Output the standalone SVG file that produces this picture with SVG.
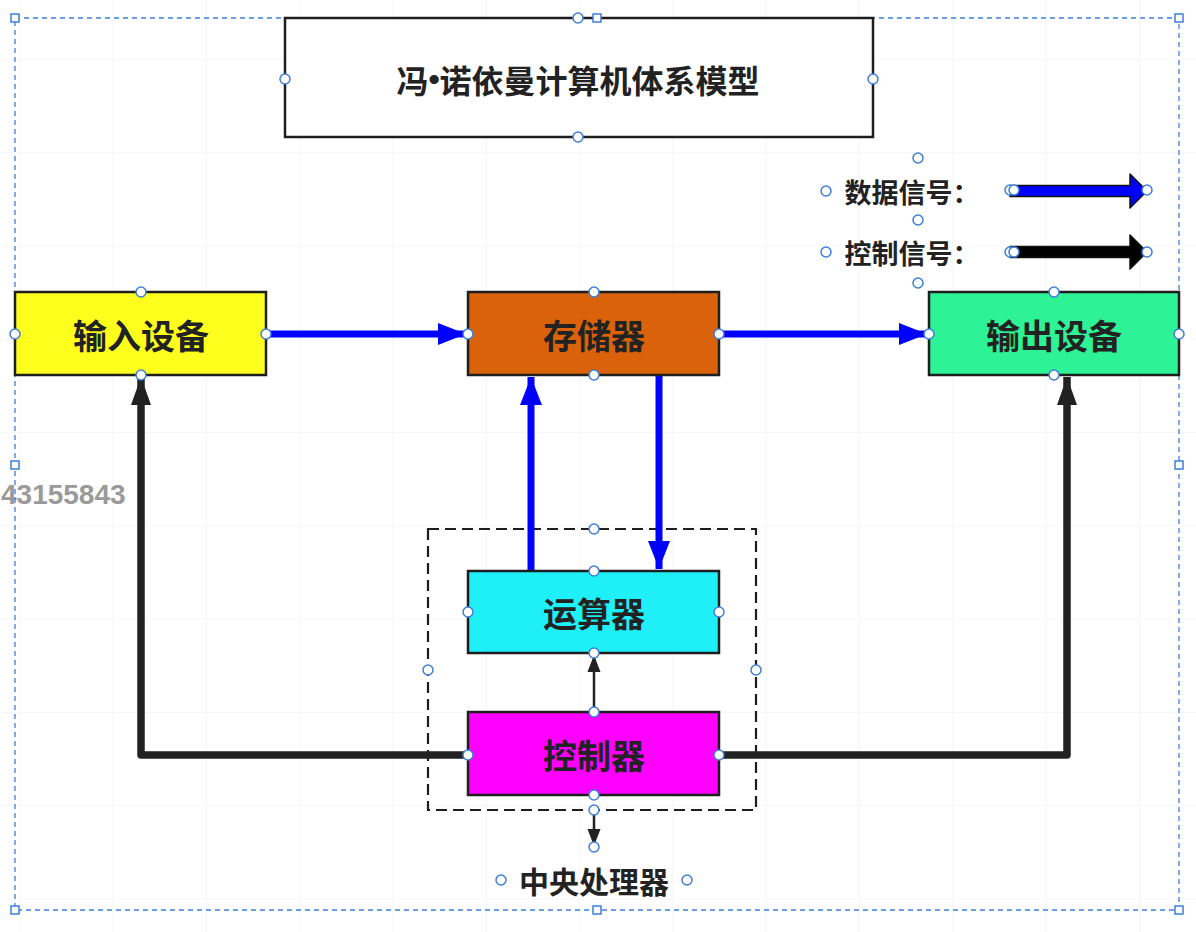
<svg xmlns="http://www.w3.org/2000/svg" width="1196" height="932" viewBox="0 0 1196 932">
<style>
.box{stroke:#1e1e1e;stroke-width:2.5}
.lbl{font-family:"Noto Sans CJK SC","Noto Sans",sans-serif;font-weight:700;fill:#222;text-anchor:middle;dominant-baseline:central}
.blue{stroke:#0000ff;stroke-width:7;fill:none}
.blk{stroke:#222;stroke-width:7.5;fill:none}
.thin{stroke:#222;stroke-width:2.5;fill:none}
.h{fill:#fff;stroke:#3d7fd9;stroke-width:1.5}
.sq{fill:#fff;stroke:#3d7fd9;stroke-width:1.5}
</style>
<defs>
<pattern id="grid" x="19.4" y="58.8" width="93.3" height="93.3" patternUnits="userSpaceOnUse">
<path d="M0 0H93.3M0 0V93.3" stroke="#eceef1" stroke-width="1.2" fill="none"/>
</pattern>
<marker id="ab" markerUnits="userSpaceOnUse" markerWidth="30" markerHeight="24" refX="28" refY="12" orient="auto">
<path d="M0 1L28 12L0 23Z" fill="#0000ff"/>
</marker>
<marker id="ak" markerUnits="userSpaceOnUse" markerWidth="30" markerHeight="24" refX="28" refY="12" orient="auto">
<path d="M0 2L28 12L0 22Z" fill="#222"/>
</marker>
<marker id="at" markerUnits="userSpaceOnUse" markerWidth="18" markerHeight="14" refX="17" refY="7" orient="auto">
<path d="M0 0.5L17 7L0 13.5Z" fill="#222"/>
</marker>
</defs>
<rect width="1196" height="932" fill="#fff"/>
<rect width="1196" height="932" fill="url(#grid)"/>

<text x="1" y="494" font-family="Liberation Sans,Arial,sans-serif" font-weight="700" font-size="28" fill="#9a9a9a" dominant-baseline="central">43155843</text>

<g id="selection">
<rect x="15" y="18" width="1164" height="892" fill="none" stroke="#3d7fd9" stroke-width="1.3" stroke-dasharray="5 4"/>
</g>

<g id="cpu-frame">
<rect x="428" y="529" width="328" height="281" fill="none" stroke="#1e1e1e" stroke-width="2.2" stroke-dasharray="11 6"/>
</g>

<g id="connectors">
<path class="blue" d="M266 334H466" marker-end="url(#ab)"/>
<path class="blue" d="M719 334H927" marker-end="url(#ab)"/>
<path class="blue" d="M531 571V377" marker-end="url(#ab)"/>
<path class="blue" d="M659 375V569" marker-end="url(#ab)"/>
<path class="blk" d="M468 755H141V377" marker-end="url(#ak)" stroke-linejoin="round"/>
<path class="blk" d="M719 755H1067V377" marker-end="url(#ak)" stroke-linejoin="round"/>
<path class="thin" d="M594 712V655" marker-end="url(#at)"/>
<path class="thin" d="M594 805V846" marker-end="url(#at)"/>
</g>

<g id="title">
<rect x="285" y="18" width="588" height="119" fill="#fff" class="box"/>
<text class="lbl" x="578" y="79" font-size="32">冯<tspan font-family="Liberation Sans,Arial,sans-serif">•</tspan>诺依曼计算机体系模型</text>
</g>

<g id="legend-data">
<text class="lbl" x="912" y="191" font-size="27">数据信号：</text>
<path d="M1010 185.5H1130V174L1147 191L1130 208V196.5H1010Z" fill="#0000ff" stroke="#111" stroke-width="1.5" stroke-linejoin="round"/>
</g>
<g id="legend-control">
<text class="lbl" x="912" y="252" font-size="27">控制信号：</text>
<path d="M1010 246.5H1130V235L1147 252L1130 269V257.5H1010Z" fill="#000" stroke="#111" stroke-width="1.5" stroke-linejoin="round"/>
</g>

<g id="input">
<rect x="15" y="292" width="251" height="83" fill="#ffff1e" class="box"/>
<text class="lbl" x="141" y="334" font-size="34">输入设备</text>
</g>
<g id="memory">
<rect x="468" y="292" width="251" height="83" fill="#d9620a" class="box"/>
<text class="lbl" x="594" y="334" font-size="34">存储器</text>
</g>
<g id="output">
<rect x="929" y="292" width="250" height="83" fill="#2ef296" class="box"/>
<text class="lbl" x="1054" y="334" font-size="34">输出设备</text>
</g>
<g id="alu">
<rect x="468" y="571" width="251" height="82" fill="#1ff0f8" class="box"/>
<text class="lbl" x="594" y="612" font-size="34">运算器</text>
</g>
<g id="controller">
<rect x="468" y="712" width="251" height="83" fill="#ff00ff" class="box"/>
<text class="lbl" x="594" y="754" font-size="34">控制器</text>
</g>
<g id="cpu-label">
<text class="lbl" x="594" y="880" font-size="30">中央处理器</text>
</g>

<g id="handles">
<rect class="sq" x="11" y="14" width="8" height="8"/>
<rect class="sq" x="593" y="14" width="8" height="8"/>
<rect class="sq" x="1175" y="14" width="8" height="8"/>
<rect class="sq" x="11" y="461" width="8" height="8"/>
<rect class="sq" x="1175" y="461" width="8" height="8"/>
<rect class="sq" x="11" y="906" width="8" height="8"/>
<rect class="sq" x="593" y="906" width="8" height="8"/>
<rect class="sq" x="1175" y="906" width="8" height="8"/>
<circle class="h" cx="578" cy="18" r="5"/>
<circle class="h" cx="285" cy="79" r="5"/>
<circle class="h" cx="873" cy="79" r="5"/>
<circle class="h" cx="578" cy="137" r="5"/>
<circle class="h" cx="918" cy="158" r="5"/>
<circle class="h" cx="826" cy="191" r="5"/>
<circle class="h" cx="918" cy="220" r="5"/>
<circle class="h" cx="826" cy="252" r="5"/>
<circle class="h" cx="918" cy="283" r="5"/>
<circle class="h" cx="1010" cy="190" r="5"/>
<circle class="h" cx="1014" cy="190" r="5"/>
<circle class="h" cx="1147" cy="190" r="5"/>
<circle class="h" cx="1010" cy="252" r="5"/>
<circle class="h" cx="1014" cy="252" r="5"/>
<circle class="h" cx="1147" cy="252" r="5"/>
<circle class="h" cx="141" cy="292" r="5"/>
<circle class="h" cx="15" cy="334" r="5"/>
<circle class="h" cx="266" cy="334" r="5"/>
<circle class="h" cx="141" cy="375" r="5"/>
<circle class="h" cx="594" cy="292" r="5"/>
<circle class="h" cx="468" cy="334" r="5"/>
<circle class="h" cx="719" cy="334" r="5"/>
<circle class="h" cx="594" cy="375" r="5"/>
<circle class="h" cx="1054" cy="292" r="5"/>
<circle class="h" cx="929" cy="334" r="5"/>
<circle class="h" cx="1179" cy="334" r="5"/>
<circle class="h" cx="1054" cy="375" r="5"/>
<circle class="h" cx="594" cy="529" r="5"/>
<circle class="h" cx="428" cy="670" r="5"/>
<circle class="h" cx="756" cy="670" r="5"/>
<circle class="h" cx="594" cy="571" r="5"/>
<circle class="h" cx="468" cy="612" r="5"/>
<circle class="h" cx="719" cy="612" r="5"/>
<circle class="h" cx="594" cy="653" r="5"/>
<circle class="h" cx="594" cy="712" r="5"/>
<circle class="h" cx="468" cy="755" r="5"/>
<circle class="h" cx="719" cy="755" r="5"/>
<circle class="h" cx="594" cy="795" r="5"/>
<circle class="h" cx="594" cy="810" r="5"/>
<circle class="h" cx="594" cy="847" r="5"/>
<circle class="h" cx="501" cy="880" r="5"/>
<circle class="h" cx="687" cy="880" r="5"/>
</g>
</svg>
